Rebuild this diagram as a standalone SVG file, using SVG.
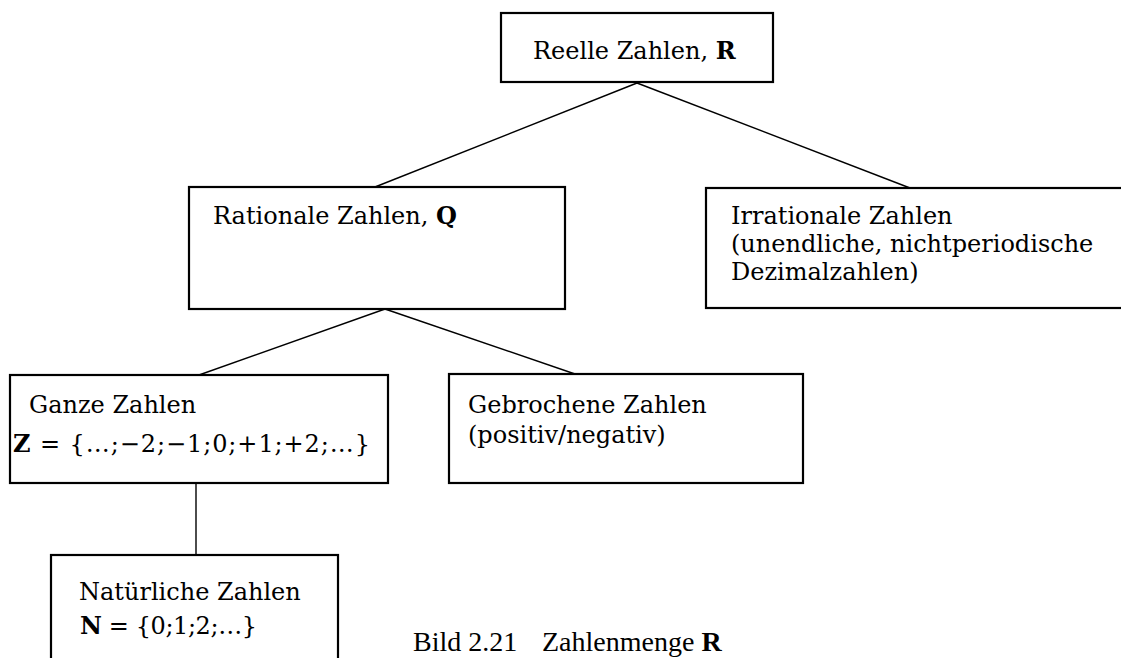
<svg xmlns="http://www.w3.org/2000/svg" width="1121" height="658" viewBox="0 0 1121 658">
<style>
.box{fill:#fff;stroke:#000;stroke-width:2.2}
.t{font-family:"DejaVu Serif","Liberation Serif",serif;font-size:24px;fill:#000}
.b{font-weight:bold}
.cap{font-family:"Liberation Serif","Times New Roman",serif;font-size:28px;fill:#000}
.con{stroke:#000;stroke-width:1.4;fill:none}
</style>
<rect width="1121" height="658" fill="#fff"/>
<g id="connectors">
<line class="con" x1="637" y1="83" x2="375" y2="187"/>
<line class="con" x1="637" y1="83" x2="910" y2="188"/>
<line class="con" x1="385" y1="309" x2="199" y2="375"/>
<line class="con" x1="385" y1="309" x2="575" y2="374"/>
<line class="con" x1="196" y1="483" x2="196" y2="555"/>
</g>
<g id="reelle">
<rect class="box" x="501" y="13" width="272" height="69"/>
<text class="t" x="533" y="59">Reelle Zahlen, <tspan class="b">R</tspan></text>
</g>
<g id="rationale">
<rect class="box" x="189" y="187" width="376" height="122"/>
<text class="t" x="213" y="224">Rationale Zahlen, <tspan class="b">Q</tspan></text>
</g>
<g id="irrationale">
<rect class="box" x="706" y="188" width="430" height="120"/>
<text class="t" x="731" y="224">Irrationale Zahlen</text>
<text class="t" x="731" y="252">(unendliche, nichtperiodische</text>
<text class="t" x="731" y="280">Dezimalzahlen)</text>
</g>
<g id="ganze">
<rect class="box" x="10" y="375" width="378" height="108"/>
<text class="t" x="29" y="413">Ganze Zahlen</text>
<text class="t" x="13" y="452" textLength="357" lengthAdjust="spacing"><tspan class="b">Z</tspan> = {…;−2;−1;0;+1;+2;…}</text>
</g>
<g id="gebrochene">
<rect class="box" x="449" y="374" width="354" height="109"/>
<text class="t" x="468" y="413">Gebrochene Zahlen</text>
<text class="t" x="468" y="443">(positiv/negativ)</text>
</g>
<g id="natuerliche">
<rect class="box" x="51" y="555" width="287" height="120"/>
<text class="t" x="79" y="600">Natürliche Zahlen</text>
<text class="t" x="80" y="634" textLength="177" lengthAdjust="spacing"><tspan class="b">N</tspan> = {0;1;2;…}</text>
</g>
<g id="caption">
<text class="cap" x="413" y="651">Bild 2.21</text>
<text class="cap" x="542" y="651">Zahlenmenge <tspan font-weight="bold">R</tspan></text>
</g>
</svg>
